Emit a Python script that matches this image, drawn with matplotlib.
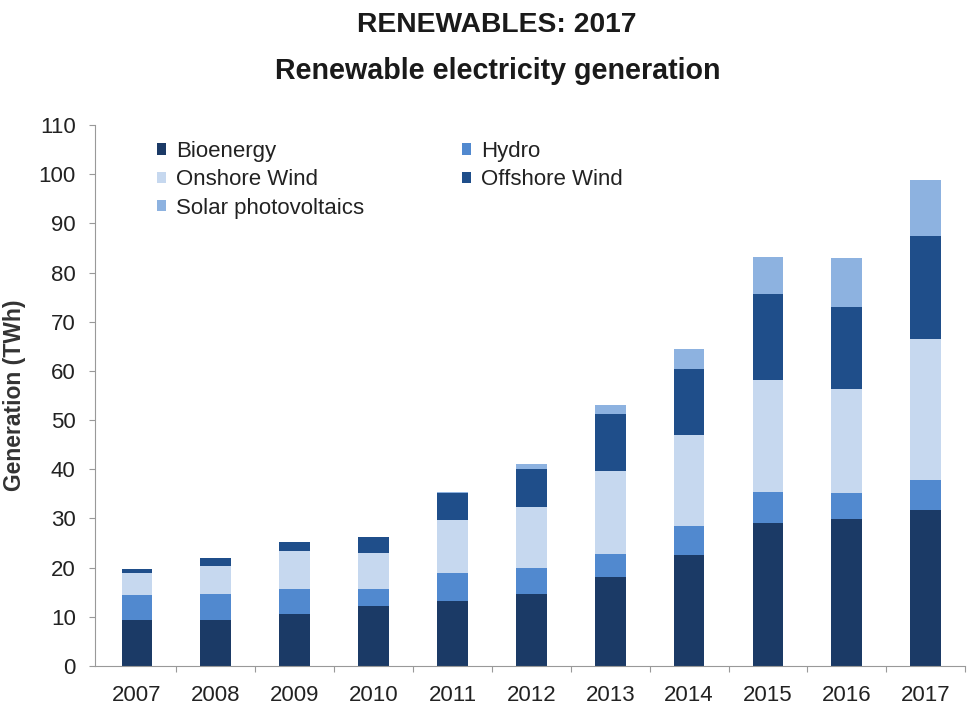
import matplotlib
matplotlib.use("Agg")
import matplotlib.pyplot as plt
import numpy as np

plt.rcParams['font.family'] = ['Liberation Sans', 'DejaVu Sans']

years = ['2007', '2008', '2009', '2010', '2011', '2012', '2013', '2014', '2015', '2016', '2017']
bioenergy = [9.4, 9.4, 10.5, 12.2, 13.2, 14.6, 18.0, 22.5, 29.1, 29.8, 31.8]
hydro = [5.0, 5.2, 5.2, 3.5, 5.8, 5.3, 4.8, 5.9, 6.2, 5.4, 6.0]
onshore = [4.5, 5.7, 7.7, 7.3, 10.7, 12.5, 16.9, 18.5, 22.9, 21.2, 28.7]
offshore = [0.9, 1.6, 1.9, 3.2, 5.4, 7.6, 11.5, 13.4, 17.4, 16.5, 20.9]
solar = [0.0, 0.0, 0.0, 0.0, 0.2, 1.1, 1.9, 4.2, 7.6, 10.1, 11.4]

names = ['Bioenergy', 'Hydro', 'Onshore Wind', 'Offshore Wind', 'Solar photovoltaics']
colours = ['#1b3a66', '#5189cf', '#c6d8ef', '#1f4e8a', '#8db2e0']
series = [bioenergy, hydro, onshore, offshore, solar]

fig = plt.figure(figsize=(9.71, 7.08), dpi=100)
ax = fig.add_axes([0.098, 0.0593, 0.896, 0.7641])

x = np.arange(len(years))
bottom = np.zeros(len(years))
bars = []
for vals, col, nm in zip(series, colours, names):
    b = ax.bar(x, vals, 0.39, bottom=bottom, color=col, label=nm, linewidth=0)
    bars.append(b)
    bottom = bottom + np.array(vals)

ax.set_ylim(0, 110)
ax.set_xlim(-0.53, 10.35)
ax.set_yticks(range(0, 111, 10))
ax.set_xticks(x + 0.5)
ax.set_xticklabels([])
ax.set_xticks(x, minor=True)
ax.set_xticklabels(years, minor=True)
ax.tick_params(axis='x', which='minor', length=0, pad=14, labelsize=16, labelcolor='#222222')
ax.tick_params(axis='x', which='major', length=4, color='#999999')
ax.tick_params(axis='y', length=4, color='#999999', labelsize=16, labelcolor='#222222', pad=10)

for s in ['top', 'right']:
    ax.spines[s].set_visible(False)
for s in ['left', 'bottom']:
    ax.spines[s].set_color('#999999')

ax.set_ylabel('Generation (TWh)', fontsize=16.5, fontweight='bold', color='#333333')
ax.yaxis.set_label_coords(-0.080, 0.5)

fig.text(0.512, 0.965, 'RENEWABLES: 2017', ha='center', va='center', fontsize=20.3, fontweight='bold', color='#1a1a1a')
fig.text(0.513, 0.900, 'Renewable electricity generation', ha='center', va='center', fontsize=20.6, fontweight='bold', color='#1a1a1a')

order = [0, 2, 4, 1, 3]
leg = ax.legend([bars[i] for i in order], [names[i] for i in order], ncol=2,
                loc='upper left', bbox_to_anchor=(157 / 971, 1 - 141 / 708),
                bbox_transform=fig.transFigure, frameon=False, fontsize=16,
                handlelength=0.4, handleheight=0.4, handletextpad=0.45,
                columnspacing=4.4, labelspacing=0.33, borderpad=0, borderaxespad=0)
for t in leg.get_texts():
    t.set_color('#222222')

fig.savefig('out.png', dpi=100)
